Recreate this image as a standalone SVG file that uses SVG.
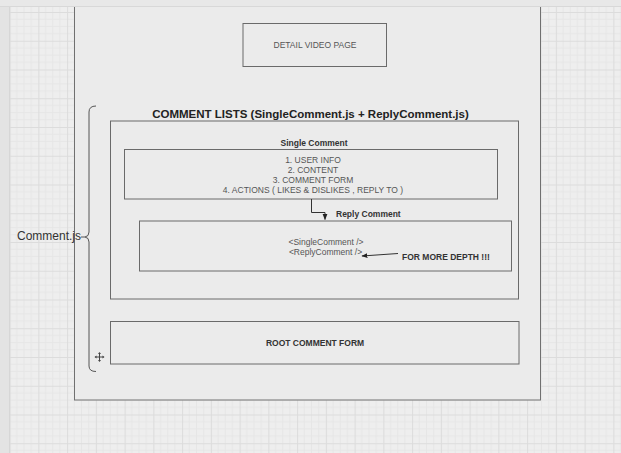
<svg xmlns="http://www.w3.org/2000/svg" width="621" height="453" viewBox="0 0 621 453">
<style>
.box{fill:none;stroke:#6a6a6a;stroke-width:1}
.t{font-family:"Liberation Sans",Arial,sans-serif;font-size:8.5px;fill:#555;text-anchor:middle}
.b{font-family:"Liberation Sans",Arial,sans-serif;font-size:8.5px;font-weight:bold;fill:#333}
.conn{fill:none;stroke:#333;stroke-width:1}
</style>
<defs>
<pattern id="grid" x="9.6" y="12" width="28.75" height="28.75" patternUnits="userSpaceOnUse">
<rect width="28.75" height="28.75" fill="#eeeeee"/>
<path d="M7.19 0V28.75M14.375 0V28.75M21.56 0V28.75M0 7.19H28.75M0 14.375H28.75M0 21.56H28.75" stroke="#e6e6e6" stroke-width="1"/>
<path d="M0.5 0V28.75M0 0.5H28.75" stroke="#dcdcdc" stroke-width="1"/>
</pattern>
<marker id="arr" viewBox="0 0 10 10" refX="9" refY="5" markerWidth="6" markerHeight="6" orient="auto">
<path d="M0 1L10 5L0 9Z" fill="#222"/>
</marker>
</defs>
<rect width="621" height="453" fill="url(#grid)"/>
<rect x="0" y="0" width="9.5" height="453" fill="#e3e3e3"/>
<line x1="9.5" y1="0" x2="9.5" y2="453" stroke="#d6d6d6"/>
<g id="page">
<rect x="74.5" y="-5" width="466" height="405" fill="#ebebeb" stroke="#707070" stroke-width="1"/>
</g>
<rect x="0" y="0" width="621" height="6" fill="#e8e8e8"/>
<line x1="0" y1="6.5" x2="621" y2="6.5" stroke="#d8d8d8"/>
<g id="detail-video-page">
<rect class="box" x="243" y="23.5" width="143.5" height="43"/>
<text class="t" x="315" y="48">DETAIL VIDEO PAGE</text>
</g>
<g id="comment-lists">
<text x="310.5" y="117.5" font-family="Liberation Sans, Arial, sans-serif" font-size="11.5" font-weight="bold" fill="#222" text-anchor="middle">COMMENT LISTS (SingleComment.js + ReplyComment.js)</text>
<rect class="box" x="110.5" y="121" width="408" height="178"/>
</g>
<g id="single-comment">
<text class="b" x="314" y="145.5" text-anchor="middle">Single Comment</text>
<rect class="box" x="124.5" y="149.5" width="373" height="49.5"/>
<text class="t" x="313" y="162.5">1. USER INFO</text>
<text class="t" x="313" y="172.5">2. CONTENT</text>
<text class="t" x="313" y="182.5">3. COMMENT FORM</text>
<text class="t" x="313" y="192.5">4. ACTIONS ( LIKES &amp; DISLIKES , REPLY TO )</text>
</g>
<g id="reply-comment">
<text class="b" x="336" y="217">Reply Comment</text>
<rect class="box" x="139.5" y="221" width="372" height="50"/>
<text class="t" x="326" y="244.5">&lt;SingleComment /&gt;</text>
<text class="t" x="325.5" y="254.5">&lt;ReplyComment /&gt;</text>
</g>
<g id="more-depth">
<text class="b" x="402" y="259.5">FOR MORE DEPTH !!!</text>
</g>
<g id="root-comment-form">
<rect class="box" x="110.5" y="321.5" width="408.5" height="42.5"/>
<text class="b" x="315" y="346" text-anchor="middle">ROOT COMMENT FORM</text>
</g>
<g id="comment-js">
<text x="17" y="240" font-family="Liberation Sans, Arial, sans-serif" font-size="12" fill="#333">Comment.js</text>
<path d="M96 106Q89 106 89 112V232Q89 236.5 85 237Q89 237.5 89 242V366Q89 371.5 96 371.5" fill="none" stroke="#555" stroke-width="1"/>
<line x1="81" y1="237" x2="85" y2="237" stroke="#555" stroke-width="1"/>
</g>
<g id="connectors">
<path class="conn" d="M311.5 199V212.5H325V219.5" marker-end="url(#arr)"/>
<path class="conn" d="M398 253.5L362 256" marker-end="url(#arr)"/>
</g>
<g id="cursor" stroke="#444" stroke-width="1" fill="#444">
<path d="M99.5 353V361M95.5 357H103.5" fill="none"/>
<path d="M99.5 352L98 354H101Z M99.5 362L98 360H101Z M94.5 357L96.5 355.5V358.5Z M104.5 357L102.5 355.5V358.5Z" stroke="none"/>
</g>
</svg>
